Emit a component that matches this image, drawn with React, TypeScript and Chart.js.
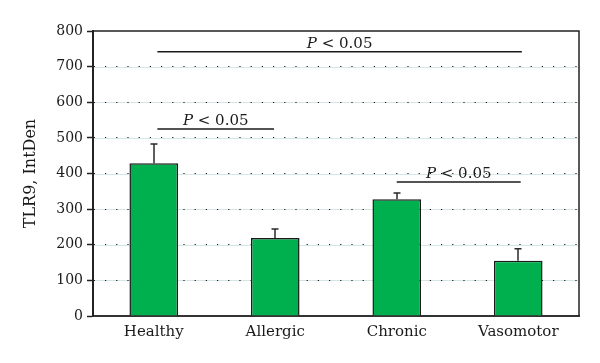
import React, { useEffect, useRef } from "react";
import { Chart, registerables } from "chart.js";

Chart.register(...registerables);

const categories = ["Healthy", "Allergic", "Chronic", "Vasomotor"];
const values = [429, 219, 328, 155];
const errors = [54, 25, 17, 34];
const yTicks = [0, 100, 200, 300, 400, 500, 600, 700, 800];
const sigFrom = [0.03, 0.03, 2.0];
const sigTo = [3.03, 0.99, 3.02];
const sigY = [742, 525, 376];
const sigLabel = ["< 0.05", "< 0.05", "< 0.05"];

const SERIF = "'DejaVu Serif', 'Liberation Serif', serif";

const extrasPlugin = {
  id: "extras",
  beforeDraw(chart: any) {
    const { ctx, chartArea, scales } = chart;
    const y = scales.y;
    ctx.save();
    ctx.strokeStyle = "rgba(160,200,200,0.45)";
    ctx.lineWidth = 1;
    yTicks.forEach((v) => {
      if (v === 0 || v === 800) return;
      const py = Math.round(y.getPixelForValue(v)) + 0.5;
      ctx.beginPath();
      ctx.moveTo(chartArea.left, py);
      ctx.lineTo(chartArea.right, py);
      ctx.stroke();
    });
    ctx.restore();
  },
  afterDatasetsDraw(chart: any) {
    const { ctx, scales } = chart;
    const y = scales.y;
    const x = scales.x;
    const meta = chart.getDatasetMeta(0);
    ctx.save();
    ctx.strokeStyle = "#2a2a2a";
    ctx.lineWidth = 1.5;
    meta.data.forEach((el: any, i: number) => {
      const top = y.getPixelForValue(values[i] + errors[i]);
      const base = y.getPixelForValue(values[i]);
      const cx = Math.round(el.x);
      ctx.beginPath();
      ctx.moveTo(cx, base);
      ctx.lineTo(cx, top);
      ctx.moveTo(cx - 3.5, top);
      ctx.lineTo(cx + 3.5, top);
      ctx.stroke();
    });
    ctx.lineWidth = 1.5;
    ctx.strokeStyle = "#1a1a1a";
    ctx.fillStyle = "#1a1a1a";
    sigFrom.forEach((f, i) => {
      const x1 = x.getPixelForValue(f);
      const x2 = x.getPixelForValue(sigTo[i]);
      const py = y.getPixelForValue(sigY[i]);
      ctx.beginPath();
      ctx.moveTo(x1, py);
      ctx.lineTo(x2, py);
      ctx.stroke();
      const italic = "italic 15px " + SERIF;
      const normal = "15px " + SERIF;
      ctx.font = italic;
      const wP = ctx.measureText("P").width;
      ctx.font = normal;
      const rest = " " + sigLabel[i];
      const wR = ctx.measureText(rest).width;
      const start = (x1 + x2) / 2 - (wP + wR) / 2;
      ctx.textBaseline = "alphabetic";
      ctx.textAlign = "left";
      ctx.font = italic;
      ctx.fillText("P", start, py - 4);
      ctx.font = normal;
      ctx.fillText(rest, start + wP, py - 4);
    });
    ctx.restore();
  },
  afterDraw(chart: any) {
    const { ctx, chartArea } = chart;
    ctx.save();
    ctx.strokeStyle = "#222";
    ctx.lineWidth = 1.5;
    ctx.beginPath();
    ctx.moveTo(chartArea.left, chartArea.top);
    ctx.lineTo(chartArea.right, chartArea.top);
    ctx.lineTo(chartArea.right, chartArea.bottom);
    ctx.stroke();
    ctx.restore();
  },
};

export default function App() {
  const ref = useRef<HTMLCanvasElement>(null);
  useEffect(() => {
    if (!ref.current) return;
    const chart = new Chart(ref.current, {
      type: "bar",
      data: {
        labels: categories,
        datasets: [
          {
            data: values,
            backgroundColor: "#00b04f",
            borderColor: "#1a1a1a",
            borderWidth: 1.5,
            categoryPercentage: 1,
            barPercentage: 0.4,
          },
        ],
      },
      options: {
        responsive: false,
        animation: false,
        layout: { padding: { left: 0, right: 21, top: 31, bottom: 0 } },
        plugins: { legend: { display: false }, tooltip: { enabled: false } },
        scales: {
          x: {
            grid: { display: false, drawTicks: false },
            border: { display: true, width: 2, color: "#333" },
            ticks: {
              font: { family: SERIF, size: 15 },
              color: "#1a1a1a",
              padding: 7,
            },
            afterFit: (s: any) => {
              s.height = 47;
            },
          },
          y: {
            min: 0,
            max: 800,
            afterBuildTicks: (s: any) => {
              s.ticks = yTicks.map((v) => ({ value: v }));
            },
            grid: {
              color: (c: any) =>
                c.tick && (c.tick.value === 0 || c.tick.value === 800)
                  ? "rgba(0,0,0,0)"
                  : "#1a1a1a",
              lineWidth: 1,
              tickLength: 6,
              tickColor: "#222",
              tickWidth: 1.5,
              tickBorderDash: [],
            },
            border: { display: true, width: 2, color: "#222", dash: [1.2, 10], dashOffset: -11 },
            ticks: {
              font: { family: SERIF, size: 14 },
              color: "#1a1a1a",
              padding: 4,
            },
            title: {
              display: true,
              text: "TLR9, IntDen",
              font: { family: SERIF, size: 16 },
              color: "#1a1a1a",
              padding: { top: 21, bottom: 0 },
            },
            afterFit: (s: any) => {
              s.width = 93;
            },
          },
        },
      },
      plugins: [extrasPlugin],
    });
    return () => chart.destroy();
  }, []);
  return (
    <div style={{ position: "fixed", left: 0, top: 0, width: 600, height: 363, background: "#fff" }}>
      <canvas ref={ref} width={600} height={363} />
    </div>
  );
}
